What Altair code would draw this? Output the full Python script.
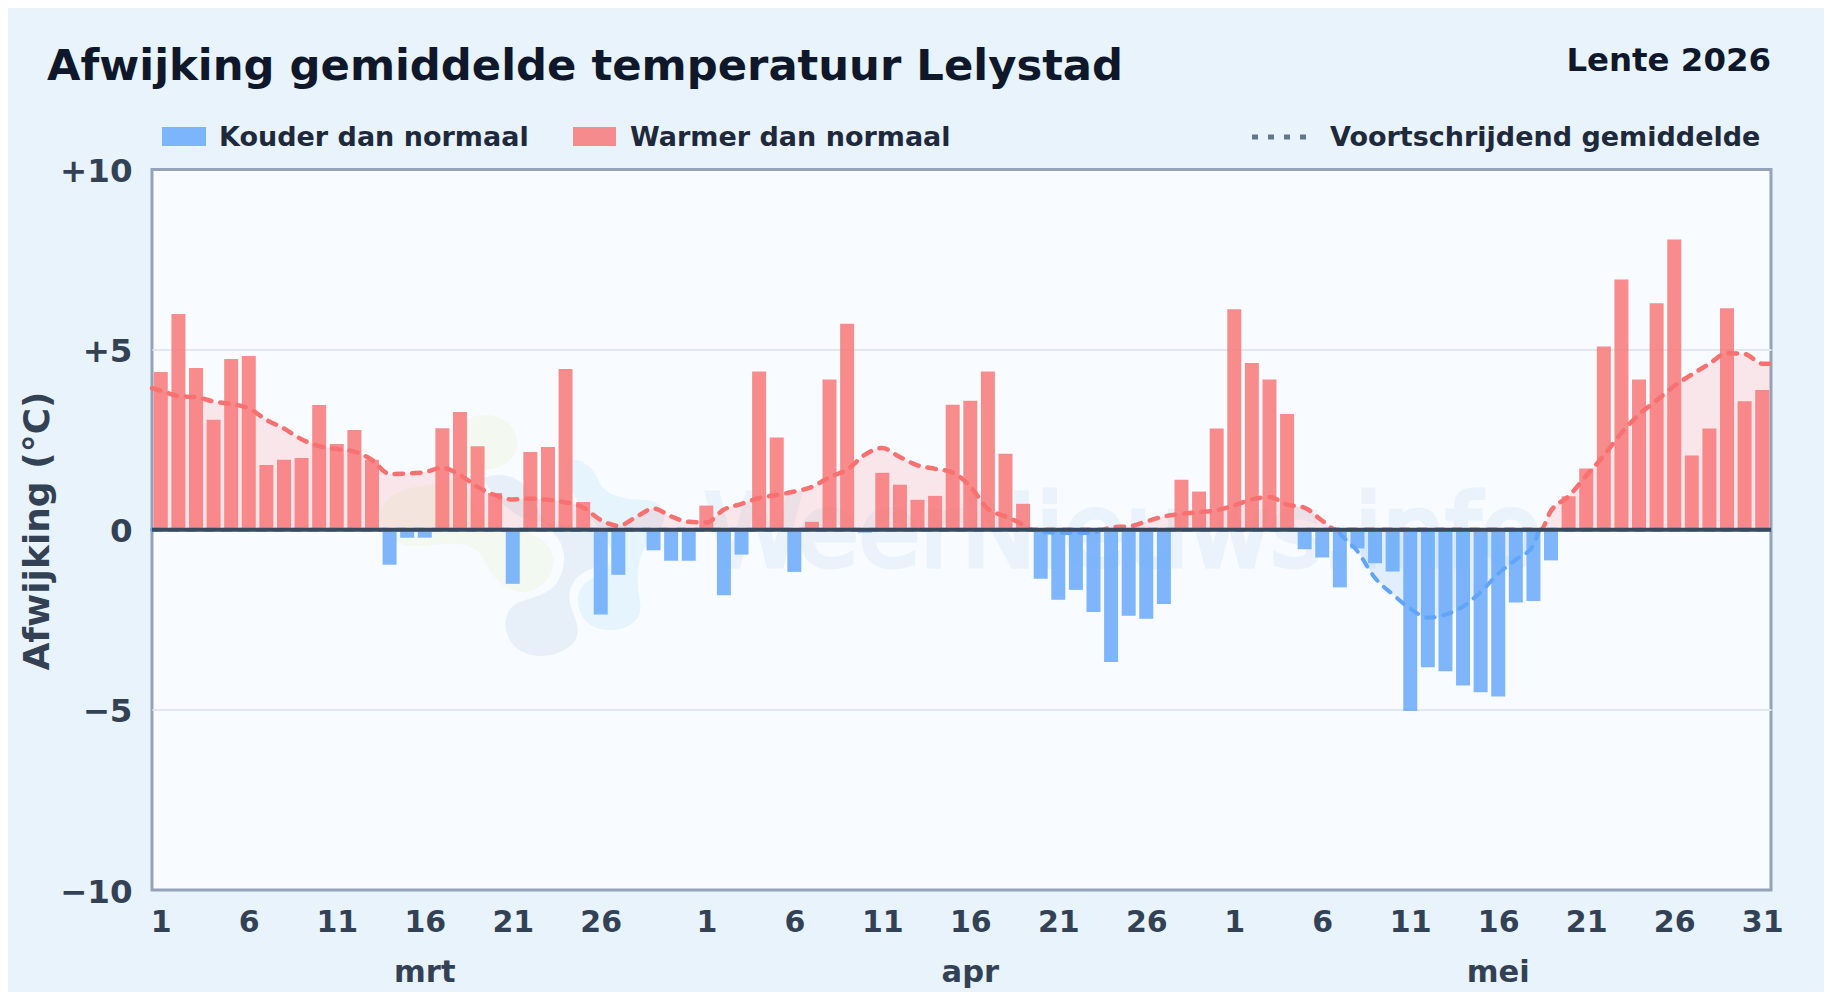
import altair as alt
import pandas as pd

# ---------- data ----------
values = [
    4.38, 5.99, 4.49, 3.05, 4.74, 4.82, 1.80, 1.94, 1.99, 3.46, 2.38, 2.77, 1.94, -0.97, -0.22, -0.22,
    2.82, 3.27, 2.32, 1.02, -1.50, 2.16, 2.30, 4.46, 0.77, -2.35, -1.25, 0.0, -0.57, -0.86, -0.86,
    0.67, -1.82, -0.69, 4.39, 2.56, -1.17, 0.22, 4.17, 5.72, -0.08, 1.58, 1.25, 0.83, 0.94, 3.47, 3.58,
    4.39, 2.11, 0.72, -1.36, -1.94, -1.67, -2.28, -3.67, -2.39, -2.47, -2.06, 1.39, 1.06, 2.81,
    6.12, 4.63, 4.17, 3.21, -0.54, -0.77, -1.60, -0.52, -0.93, -1.16, -5.03, -3.82, -3.93, -4.32, -4.51,
    -4.63, -2.02, -1.98, -0.85, 0.93, 1.70, 5.09, 6.95, 4.17, 6.29, 8.06, 2.06, 2.81, 6.15, 3.57, 3.88,
]
ma_pos = [0.5] + list(range(1, 51)) + [50.5] + [51, 52, 53, 54] + [54.5] + list(range(55, 68)) + [67.8] + \
    list(range(68, 80)) + [79.4] + list(range(80, 93)) + [92.5]
ma_val = [
    3.93, 3.86, 3.71, 3.68, 3.56, 3.49, 3.37, 3.05, 2.81, 2.51, 2.32, 2.24, 2.17, 1.94, 1.55, 1.56, 1.60,
    1.72, 1.52, 1.19, 0.96, 0.84, 0.86, 0.83, 0.76, 0.62, 0.27, 0.11, 0.35, 0.59, 0.37, 0.22, 0.20, 0.56,
    0.72, 0.88, 0.97, 1.06, 1.19, 1.46, 1.67, 2.08, 2.27, 2.02, 1.79, 1.69, 1.59, 1.20, 0.58, 0.37, 0.14,
    0.0, -0.05, -0.09, -0.09, -0.09, 0.0, 0.07, 0.09, 0.23, 0.37, 0.44, 0.49, 0.54, 0.68, 0.84, 0.91, 0.70,
    0.61, 0.25, 0.0, -0.11, -0.60, -1.34, -1.79, -2.19, -2.44, -2.36, -2.13, -1.73, -1.22, -0.83, -0.43, 0.0,
    0.53, 0.93, 1.50, 2.06, 2.69, 3.20, 3.59, 3.99, 4.31, 4.61, 4.90, 4.88, 4.61, 4.61,
]
x_ticks = [1, 6, 11, 16, 21, 26, 32, 37, 42, 47, 52, 57, 62, 67, 72, 77, 82, 87, 92]
y_ticks = [-10, -5, 0, 5, 10]
months = ["mrt", "apr", "mei"]
month_pos = [16, 47, 77]
title_text = "Afwijking gemiddelde temperatuur Lelystad"
season_text = "Lente 2026"
legend_cold = "Kouder dan normaal"
legend_warm = "Warmer dan normaal"
legend_ma = "Voortschrijdend gemiddelde"
watermark = "WeerNieuws.info"

# ---------- style ----------
FONT = "DejaVu Sans"
RED, BLUE = "#f87171", "#60a5fa"
W, H = 1619, 720.5
X0, Y0 = 152, 169.5
xs = alt.Scale(domain=[0.5, 92.5], nice=False, zero=False, padding=0)
ys = alt.Scale(domain=[-10, 10], nice=False, padding=0)

bars_df = pd.DataFrame({"day": range(1, 93), "value": values})
bars_df["kind"] = ["warm" if v >= 0 else "cold" for v in values]
ma_df = pd.DataFrame({"day": ma_pos, "val": ma_val})
ma_df["up"] = ma_df["val"].clip(lower=0)
ma_df["down"] = ma_df["val"].clip(upper=0)
months_df = pd.DataFrame({"day": month_pos, "m": months})
one = pd.DataFrame({"a": [0]})


def label(text, px, py, size, color, align="left", weight="bold", **kw):
    return alt.Chart(one).mark_text(
        text=text, font=FONT, fontSize=size, fontWeight=weight, color=color, align=align,
        baseline="alphabetic", **kw
    ).encode(x=alt.value(px - X0), y=alt.value(py - Y0))


def blob(path, color):
    return alt.Chart(one).mark_point(
        shape=path, size=0.4444, filled=True, fill=color, opacity=1, strokeOpacity=0
    ).encode(x=alt.value(218), y=alt.value(220.5))


def swatch(x1, x2, y1, y2, color):
    return alt.Chart(one).mark_rect(color=color, opacity=0.8).encode(
        x=alt.value(x1 - X0), x2=alt.value(x2 - X0), y=alt.value(y1 - Y0), y2=alt.value(y2 - Y0)
    )


green = ("M290,90C330,60 420,70 440,140C450,200 410,235 340,240C300,245 260,270 170,285"
         "C90,295 40,320 30,370C30,430 70,465 130,470C200,470 280,440 330,490C360,540 380,590 440,605"
         "C500,615 550,570 550,510C545,450 480,420 420,420C340,400 300,350 290,280C280,200 250,130 290,90Z")
light = ("M585,215C630,195 670,230 690,280C710,320 770,330 830,330C880,335 905,380 860,430"
         "C820,470 790,510 810,640C820,690 770,725 710,720C650,715 620,670 625,620C630,570 690,560 720,520"
         "C740,470 690,420 650,370C620,330 580,280 585,215Z")
slate = ("M340,265C380,245 440,255 465,290C490,330 520,400 560,440C590,480 590,530 560,580"
         "C530,620 470,625 440,640C400,665 395,720 430,765C470,810 560,810 610,760C640,720 610,680 600,640"
         "C590,590 620,550 670,535C710,500 700,450 660,420C600,400 500,400 450,380C400,350 360,310 340,265Z")

x_axis = alt.Axis(
    values=x_ticks, domain=False, ticks=False, grid=False, labelFont=FONT, labelFontWeight="bold",
    labelFontSize=30, labelColor="#334155", labelPadding=17, labelFlush=False, labelOverlap=False,
    labelExpr="datum.value>61?datum.value-61:datum.value>31?datum.value-31:datum.value",
)
y_axis = alt.Axis(
    values=y_ticks, domain=False, ticks=False, grid=True, gridColor="#e2e8f0", gridWidth=2,
    gridOpacity=alt.condition("abs(datum.value)==5", alt.value(1), alt.value(0)),
    labelFont=FONT, labelFontWeight="bold", labelFontSize=32.5, labelColor="#334155", labelPadding=20,
    labelOffset=2,
    labelExpr="datum.value>0?'+'+datum.value:datum.value<0?'\u2212'+abs(datum.value):'0'",
    titleFont=FONT, titleFontWeight="bold", titleFontSize=36, titleColor="#334155",
    titleX=-96, titleY=361, titleAngle=270,
)
X_ENC = alt.X("day:Q", scale=xs, title=None, axis=x_axis)


def y_enc(field):
    return alt.Y(f"{field}:Q", scale=ys, title="Afwijking (°C)", axis=y_axis)


bars = alt.Chart(bars_df).mark_bar(width=14, orient="vertical", opacity=0.8).encode(
    x=X_ENC, y=y_enc("value"),
    color=alt.Color("kind:N", scale=alt.Scale(domain=["cold", "warm"], range=[BLUE, RED]), legend=None),
)


def area(field, color):
    return alt.Chart(ma_df).mark_area(color=color, opacity=0.15, interpolate="monotone").encode(
        x=X_ENC, y=y_enc(field), y2=alt.datum(0)
    )


def line(field, color, width):
    return alt.Chart(ma_df).mark_line(
        color=color, strokeWidth=width, strokeDash=[8.5, 9], strokeCap="round", interpolate="monotone"
    ).encode(x=X_ENC, y=y_enc(field))


zero = alt.Chart(one).mark_rule(color="#3a4a5e", strokeWidth=4).encode(
    y=alt.Y(datum=0, scale=ys, title="Afwijking (°C)", axis=y_axis)
)

month_text = alt.Chart(months_df).mark_text(
    font=FONT, fontSize=30.5, fontWeight="bold", color="#334155", baseline="alphabetic"
).encode(x=X_ENC, y=alt.value(812), text="m:N")

chart = alt.layer(
    blob(green, "#f3f9f1"),
    blob(light, "#e6f4fe"),
    blob(slate, "#e7f0f9"),
    label(watermark, 1123, 566, 100, "#eaf3fb", align="center", weight="normal", stroke="#eaf3fb", strokeWidth=5),
    bars,
    area("up", RED),
    area("down", BLUE),
    line("up", RED, 4.5),
    line("down", BLUE, 4),
    zero,
    month_text,
    label(title_text, 47, 80, 43.3, "#0f172a"),
    label(season_text, 1771, 71, 32.4, "#0f172a", align="right"),
    swatch(162, 206, 127, 146, BLUE),
    label(legend_cold, 219, 146, 27, "#1e293b"),
    swatch(573, 616, 127, 146, RED),
    label(legend_warm, 630, 146, 27, "#1e293b"),
    alt.Chart(one).mark_rule(color="#64748b", strokeWidth=5, strokeDash=[6, 10]).encode(
        x=alt.value(1252 - X0), x2=alt.value(1309 - X0), y=alt.value(137 - Y0)
    ),
    label(legend_ma, 1330, 146, 27, "#1e293b"),
).resolve_scale(color="independent").properties(
    width=W, height=H,
    background="#e8f3fc",
    autosize=alt.AutoSizeParams(type="none"),
    padding={"left": X0 - 8, "top": Y0 - 8, "right": 1816 - (X0 - 8) - W, "bottom": 984 - (Y0 - 8) - H},
).configure_view(fill="#f8fbff", stroke="#94a3b8", strokeWidth=3)

chart.save("out.html", embed_options={"renderer": "svg", "actions": False})
